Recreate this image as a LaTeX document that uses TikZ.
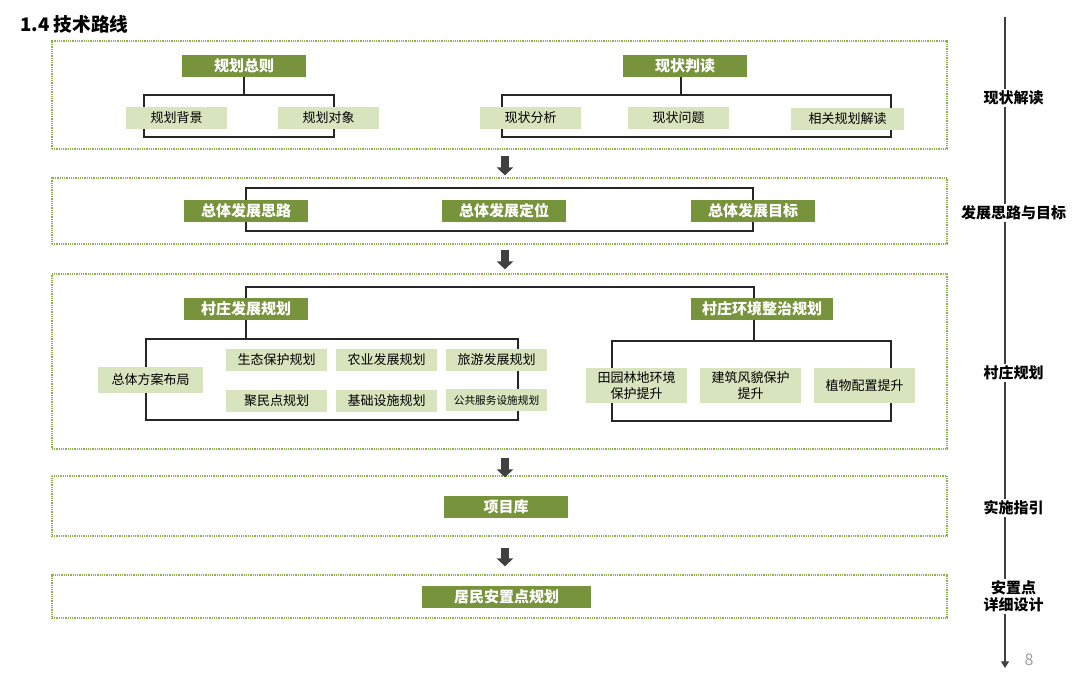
\documentclass[tikz,border=0pt]{standalone}
\usepackage{fontspec}
\setmainfont{Noto Sans CJK SC}
\usetikzlibrary{arrows.meta}
\definecolor{ogreen}{HTML}{77933C}
\definecolor{lgreen}{HTML}{D7E4BD}
\definecolor{dgreen}{HTML}{8FB050}
\definecolor{agray}{HTML}{404040}
\pgfdeclarelayer{bg}
\pgfsetlayers{bg,main}
\tikzset{
  gbox/.style={fill=ogreen, text=white, font=\bfseries\fontsize{11.25}{13}\selectfont, inner sep=0pt, minimum height=16.5pt, minimum width=93pt},
  lbox/.style={fill=lgreen, text=black, font=\fontsize{9.75}{12.5}\selectfont, inner sep=0pt, minimum height=16.5pt, minimum width=75.75pt, align=center},
  dotbox/.style={draw=dgreen, dash pattern=on 0.75pt off 0.6pt, line width=0.9pt, minimum width=671.25pt, inner sep=0pt},
  frameline/.style={draw=black!85, line width=1.1pt},
  flow/.style={draw=agray, line width=6pt, -{Triangle[width=12pt,length=6pt]}},
  tline/.style={draw=black!75, line width=0.9pt, -{Triangle[width=6pt,length=5pt]}},
  tlabel/.style={fill=white, font=\bfseries\fontsize{11.25}{13.5}\selectfont, inner sep=1.5pt, align=center}
}
\begin{document}
\begin{tikzpicture}[x=0.75pt,y=-0.75pt]
\useasboundingbox (0,0) rectangle (1076,678);
% title
\node[anchor=west, font=\bfseries\fontsize{14}{16}\selectfont, inner sep=0pt] (title) at (20,24) {1.4 技术路线};
% dotted stage boxes
\node[dotbox, minimum height=81pt] (B1) at (499.5,95) {};
\node[dotbox, minimum height=49.5pt] (B2) at (499.5,211) {};
\node[dotbox, minimum height=131.25pt] (B3) at (499.5,361.5) {};
\node[dotbox, minimum height=45pt] (B4) at (499.5,506) {};
\node[dotbox, minimum height=32.25pt] (B5) at (499.5,596.5) {};
% box 1
\node[gbox] (gz) at (244,66) {规划总则};
\node[lbox] (bj) at (176.5,118) {规划背景};
\node[lbox] (dx) at (328.5,118) {规划对象};
\node[gbox] (xz) at (685,66) {现状判读};
\node[lbox] (fx) at (530.5,118) {现状分析};
\node[lbox] (wt) at (678.5,118) {现状问题};
\node[lbox, minimum width=84.75pt] (xg) at (847.5,119) {相关规划解读};
% box 2
\node[gbox] (sl) at (246,211) {总体发展思路};
\node[gbox] (dw) at (504,211) {总体发展定位};
\node[gbox] (mb) at (753,211) {总体发展目标};
% box 3
\node[gbox] (cf) at (246,309) {村庄发展规划};
\node[gbox, minimum width=106.5pt] (ch) at (762,309) {村庄环境整治规划};
\node[lbox, minimum width=78.75pt, minimum height=19.5pt] (zt) at (150.5,380) {总体方案布局};
\node[lbox] (st) at (276.5,360) {生态保护规划};
\node[lbox] (ny) at (386.5,360) {农业发展规划};
\node[lbox] (ly) at (496.5,360) {旅游发展规划};
\node[lbox] (jm) at (276.5,401) {聚民点规划};
\node[lbox] (jc) at (386.5,401) {基础设施规划};
\node[lbox, font=\fontsize{8}{10}\selectfont] (gg) at (496.5,400) {公共服务设施规划};
\node[lbox, minimum height=26.25pt] (ty) at (636.5,385.5) {田园林地环境\\保护提升};
\node[lbox, minimum height=26.25pt] (jz) at (750.5,385.5) {建筑风貌保护\\提升};
\node[lbox, minimum height=26.25pt] (zw) at (864.5,385.5) {植物配置提升};
% box 4, 5
\node[gbox] (xm) at (506,507) {项目库};
\node[gbox, minimum width=126.75pt] (jmz) at (506.5,597) {居民安置点规划};
% frame coordinates
\coordinate (f1a) at (144,95); \coordinate (f1b) at (334,137);
\coordinate (f2a) at (502,95); \coordinate (f2b) at (891,137);
\coordinate (f3t) at (0,188); \coordinate (f3b) at (0,231);
\coordinate (f4t) at (0,287);
\coordinate (f5a) at (146,339); \coordinate (f5b) at (518,420);
\coordinate (f6a) at (612,341); \coordinate (f6b) at (891,421);
\coordinate (chs) at (754,320);
% timeline
\coordinate (tl0) at (1005,17);
\coordinate (tl1) at (1005,668);
\node[tlabel] (t1) at (1013.5,98) {现状解读};
\node[tlabel] (t2) at (1013.5,213) {发展思路与目标};
\node[tlabel] (t3) at (1013.5,373) {村庄规划};
\node[tlabel] (t4) at (1013.5,508) {实施指引};
\node[tlabel, font=\bfseries\fontsize{11.25}{12.8}\selectfont] (t5) at (1013.5,596.5) {安置点\\详细设计};
\node[text=gray!75, font=\fontsize{12}{14}\selectfont, inner sep=0pt] (pg) at (1029,660) {8};
\begin{pgfonlayer}{bg}
  % frames
  \draw[frameline] (f1a) rectangle (f1b);
  \draw[frameline] (gz.south) -- (gz.south |- f1a);
  \draw[frameline] (f2a) rectangle (f2b);
  \draw[frameline] ([xshift=-3pt]xz.south) -- ([xshift=-3pt]xz.south |- f2a);
  \draw[frameline] (sl.center |- f3t) rectangle (mb.center |- f3b);
  \draw[frameline] (cf.north) -- (cf.north |- f4t) -- (chs |- f4t) -- (chs |- ch.north);
  \draw[frameline] (f5a) rectangle (f5b);
  \draw[frameline] (cf.south) -- (cf.south |- f5a);
  \draw[frameline] (f6a) rectangle (f6b);
  \draw[frameline] (chs) -- (chs |- f6a);
  \draw[tline] (tl0) -- (tl1);
\end{pgfonlayer}
% flow arrows between stages
\draw[flow] ([xshift=4.1pt,yshift=-4.5pt]B1.south) -- ([xshift=4.1pt,yshift=1.5pt]B2.north);
\draw[flow] ([xshift=4.1pt,yshift=-3.75pt]B2.south) -- ([xshift=4.1pt,yshift=3pt]B3.north);
\draw[flow] ([xshift=4.1pt,yshift=-6pt]B3.south) -- ([xshift=4.1pt,yshift=-1.5pt]B4.north);
\draw[flow] ([xshift=4.1pt,yshift=-8.25pt]B4.south) -- ([xshift=4.1pt,yshift=6pt]B5.north);
\end{tikzpicture}
\end{document}
